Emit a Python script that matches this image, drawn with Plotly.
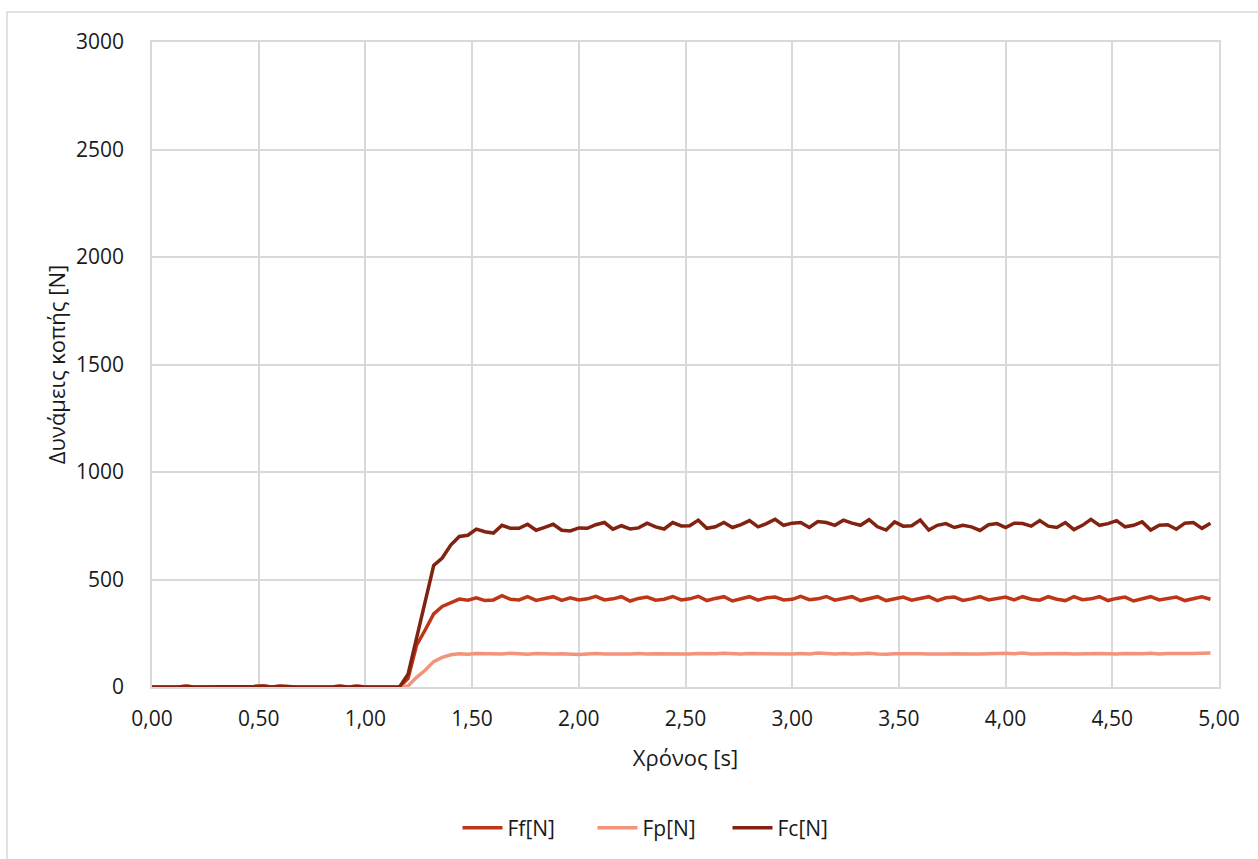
import numpy as np
import plotly.graph_objects as go

# Sampling interval of the force recording [s]
DT = 0.04

# Idle phase before the tool engages (t = 0.00 ... 1.16 s)
idle = [0, 2, 0, 0, 3, 0, 0, 0, 0, 4,
        0, 0, 2, 5, 0, 3, 0, 0, 0, 2,
        0, 0, 3, 0, 4, 0, 0, 0, 3, 0]

# Cutting phase (t = 1.20 ... 4.96 s)
ff_cut = [40, 195, 265, 340, 375, 392, 409, 404, 415, 402,
          405, 425, 408, 405, 420, 403, 412, 420, 403, 415,
          405, 410, 422, 405, 410, 420, 400, 412, 418, 404,
          408, 421, 405, 410, 422, 402, 412, 420, 400, 410,
          420, 404, 415, 418, 405, 408, 422, 406, 410, 421,
          404, 412, 420, 402, 410, 420, 402, 412, 418, 404,
          412, 420, 402, 415, 418, 403, 410, 420, 405, 412,
          418, 405, 420, 408, 404, 420, 408, 402, 420, 406,
          410, 420, 402, 412, 418, 400, 410, 420, 405, 412,
          418, 402, 410, 420, 408]

fp_cut = [5, 45, 78, 118, 138, 150, 155, 152, 156, 154,
          155, 153, 157, 154, 152, 156, 154, 153, 155, 152,
          151, 154, 156, 153, 152, 155, 154, 156, 153, 155,
          154, 157, 155, 153, 156, 154, 155, 157, 154, 153,
          156, 155, 154, 157, 155, 153, 156, 154, 158, 155,
          154, 156, 153, 155, 157, 154, 152, 155, 156, 153,
          155, 154, 152, 153, 155, 156, 154, 153, 155, 156,
          157, 155, 158, 153, 154, 157, 155, 156, 153, 155,
          154, 156, 155, 153, 156, 154, 155, 157, 154, 156,
          155, 154, 156, 157, 158]

fc_cut = [60, 230, 400, 565, 600, 660, 700, 706, 734, 722,
          716, 752, 738, 738, 757, 729, 742, 757, 729, 726,
          740, 738, 755, 765, 734, 750, 735, 740, 762, 745,
          735, 765, 749, 750, 776, 738, 745, 765, 742, 755,
          774, 745, 760, 780, 752, 762, 765, 742, 770, 765,
          752, 776, 762, 752, 778, 745, 730, 768, 748, 750,
          776, 730, 752, 760, 742, 752, 745, 728, 755, 760,
          742, 762, 760, 748, 774, 748, 742, 765, 732, 752,
          780, 752, 760, 774, 745, 752, 768, 730, 752, 755,
          734, 762, 765, 738, 762]

Ff = idle + ff_cut
Fp = idle + fp_cut
Fc = idle + fc_cut
assert len(Ff) == len(Fp) == len(Fc)

time = np.round(np.arange(len(Fc)) * DT, 2)

series = [
    ("Ff[N]", Ff, "#BE3618"),
    ("Fp[N]", Fp, "#F4937B"),
    ("Fc[N]", Fc, "#822210"),
]

FONT = "Open Sans, Noto Sans, sans-serif"
GRID = "#d9d9d9"

fig = go.Figure()
for name, vals, color in series:
    fig.add_trace(go.Scatter(
        x=time, y=vals, name=name, mode="lines",
        line=dict(color=color, width=3.5),
    ))

# plot area: x 152..1219, y 42..688 in a 1258x859 page
L, R, T, B = 152, 1219, 42, 688
W, H = 1258, 859
pw, ph = R - L, B - T

fig.update_layout(
    width=W, height=H,
    margin=dict(l=L, r=W - R, t=T, b=H - B, pad=0),
    paper_bgcolor="white", plot_bgcolor="white",
    separators=",.",
    font=dict(family=FONT, size=21, color="#1a1a1a"),
    showlegend=True,
    legend=dict(
        orientation="h", x=(660 - L) / pw, xanchor="center",
        y=-(828 - B) / ph, yanchor="middle",
        font=dict(size=21), bgcolor="rgba(0,0,0,0)",
        itemwidth=40, entrywidth=80, entrywidthmode="pixels",
    ),
    xaxis=dict(
        range=[0, 5], dtick=0.5, tick0=0, tickformat=".2f",
        showgrid=True, gridcolor=GRID, gridwidth=1.5,
        zeroline=False, showline=True, linecolor=GRID, linewidth=1.5,
        mirror=True, ticks="", ticklabelstandoff=12,
        title=dict(text="Χρόνος [s]", standoff=20, font=dict(size=22)),
    ),
    yaxis=dict(
        range=[0, 3000], dtick=500, tick0=0, tickformat="d",
        showgrid=True, gridcolor=GRID, gridwidth=1.5,
        zeroline=False, showline=True, linecolor=GRID, linewidth=1.5,
        mirror=True, ticks="", ticklabelstandoff=22,
        title=dict(text="Δυνάμεις κοπής [N]", standoff=4, font=dict(size=22)),
    ),
    shapes=[dict(
        type="rect", xref="paper", yref="paper",
        x0=(7 - L) / pw, x1=(1275 - L) / pw,
        y0=-(875 - B) / ph, y1=(B - 12) / ph,
        line=dict(color=GRID, width=1.5), fillcolor="rgba(0,0,0,0)",
        layer="below",
    )],
)

fig.write_html("out.html")
